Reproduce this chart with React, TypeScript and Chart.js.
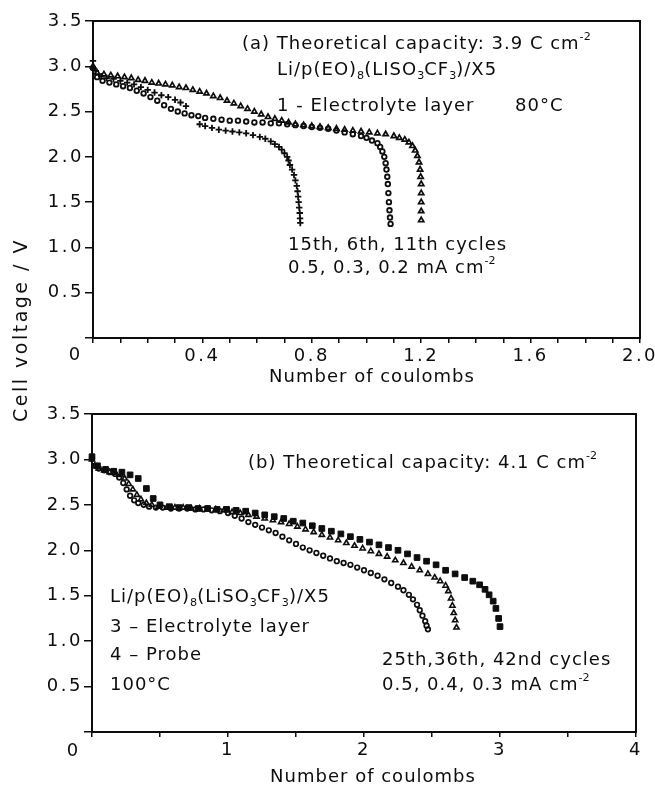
import React, { useEffect, useRef } from 'react';
import { Chart, registerables } from 'chart.js';

Chart.register(...registerables);

const FONT = '"DejaVu Sans", "Liberation Sans", sans-serif';
const INK = '#0d0d0d';

// ---------- Panel (a): Li/p(EO)8(LiSO3CF3)/X5, 80 °C ----------
// 15th cycle, 0.5 mA cm-2 (crosses)
const a15X = [0.00, 0.01, 0.03, 0.05, 0.075, 0.10, 0.125, 0.15, 0.175, 0.20, 0.225, 0.25, 0.275, 0.30, 0.32, 0.34, 0.39, 0.41, 0.435, 0.46, 0.485, 0.51, 0.535, 0.56, 0.585, 0.61, 0.63, 0.65, 0.665, 0.68, 0.69, 0.70, 0.71, 0.715, 0.72, 0.728, 0.735, 0.74, 0.745, 0.748, 0.75, 0.752, 0.754, 0.756, 0.757, 0.758];
const a15Y = [3.06, 2.95, 2.89, 2.87, 2.86, 2.84, 2.82, 2.80, 2.77, 2.74, 2.71, 2.68, 2.66, 2.63, 2.60, 2.56, 2.36, 2.34, 2.32, 2.30, 2.29, 2.28, 2.27, 2.26, 2.24, 2.22, 2.20, 2.17, 2.14, 2.11, 2.08, 2.04, 2.00, 1.96, 1.91, 1.86, 1.80, 1.74, 1.68, 1.62, 1.56, 1.50, 1.44, 1.38, 1.32, 1.27];
// 6th cycle, 0.3 mA cm-2 (open circles)
const a6X = [0.00, 0.015, 0.035, 0.06, 0.085, 0.11, 0.135, 0.16, 0.185, 0.21, 0.235, 0.26, 0.285, 0.31, 0.335, 0.36, 0.385, 0.41, 0.44, 0.47, 0.50, 0.53, 0.56, 0.59, 0.62, 0.65, 0.68, 0.71, 0.74, 0.77, 0.80, 0.83, 0.86, 0.89, 0.92, 0.95, 0.98, 1.00, 1.02, 1.04, 1.05, 1.058, 1.065, 1.07, 1.073, 1.076, 1.078, 1.08, 1.082, 1.084, 1.086, 1.088];
const a6Y = [2.98, 2.88, 2.84, 2.82, 2.80, 2.78, 2.76, 2.73, 2.70, 2.66, 2.62, 2.57, 2.53, 2.50, 2.48, 2.46, 2.45, 2.43, 2.42, 2.41, 2.40, 2.40, 2.39, 2.38, 2.38, 2.37, 2.37, 2.36, 2.35, 2.34, 2.33, 2.32, 2.31, 2.29, 2.27, 2.25, 2.23, 2.21, 2.18, 2.15, 2.11, 2.06, 2.00, 1.93, 1.86, 1.78, 1.70, 1.60, 1.50, 1.41, 1.33, 1.26];
// 11th cycle, 0.2 mA cm-2 (open triangles)
const a11X = [0.00, 0.015, 0.04, 0.065, 0.09, 0.115, 0.14, 0.165, 0.19, 0.215, 0.24, 0.265, 0.29, 0.315, 0.34, 0.365, 0.39, 0.415, 0.44, 0.465, 0.49, 0.515, 0.54, 0.565, 0.59, 0.615, 0.64, 0.665, 0.69, 0.715, 0.74, 0.77, 0.80, 0.83, 0.86, 0.89, 0.92, 0.95, 0.98, 1.01, 1.04, 1.07, 1.10, 1.12, 1.14, 1.155, 1.168, 1.178, 1.186, 1.192, 1.196, 1.198, 1.20, 1.20, 1.20, 1.20, 1.20];
const a11Y = [3.00, 2.93, 2.91, 2.90, 2.89, 2.88, 2.87, 2.85, 2.84, 2.82, 2.81, 2.80, 2.79, 2.77, 2.76, 2.74, 2.72, 2.70, 2.67, 2.65, 2.62, 2.59, 2.56, 2.53, 2.50, 2.47, 2.44, 2.42, 2.40, 2.38, 2.36, 2.35, 2.34, 2.33, 2.32, 2.31, 2.30, 2.29, 2.28, 2.27, 2.26, 2.25, 2.23, 2.21, 2.19, 2.16, 2.12, 2.07, 2.01, 1.94, 1.86, 1.78, 1.70, 1.60, 1.50, 1.40, 1.30];

// ---------- Panel (b): 100 °C ----------
// 25th cycle, 0.5 mA cm-2 (open circles)
const b25X = [0.00, 0.02, 0.05, 0.09, 0.13, 0.17, 0.20, 0.23, 0.255, 0.28, 0.31, 0.34, 0.38, 0.42, 0.47, 0.52, 0.58, 0.64, 0.70, 0.76, 0.82, 0.88, 0.94, 1.00, 1.05, 1.10, 1.15, 1.20, 1.25, 1.30, 1.35, 1.40, 1.45, 1.50, 1.55, 1.60, 1.65, 1.70, 1.75, 1.80, 1.85, 1.90, 1.95, 2.00, 2.05, 2.10, 2.15, 2.20, 2.25, 2.29, 2.33, 2.36, 2.39, 2.41, 2.43, 2.45, 2.46, 2.47];
const b25Y = [3.01, 2.93, 2.90, 2.88, 2.86, 2.84, 2.80, 2.74, 2.67, 2.60, 2.55, 2.52, 2.50, 2.48, 2.47, 2.47, 2.46, 2.46, 2.46, 2.45, 2.45, 2.44, 2.43, 2.41, 2.38, 2.35, 2.31, 2.28, 2.25, 2.22, 2.19, 2.15, 2.11, 2.07, 2.03, 2.00, 1.97, 1.94, 1.91, 1.88, 1.86, 1.84, 1.81, 1.78, 1.75, 1.72, 1.68, 1.64, 1.60, 1.56, 1.51, 1.46, 1.40, 1.34, 1.28, 1.22, 1.17, 1.13];
// 36th cycle, 0.4 mA cm-2 (open triangles)
const b36X = [0.00, 0.02, 0.05, 0.09, 0.13, 0.17, 0.21, 0.24, 0.27, 0.30, 0.33, 0.36, 0.40, 0.44, 0.49, 0.55, 0.61, 0.67, 0.73, 0.79, 0.85, 0.91, 0.97, 1.03, 1.09, 1.15, 1.21, 1.27, 1.33, 1.39, 1.45, 1.51, 1.57, 1.63, 1.69, 1.75, 1.81, 1.87, 1.93, 1.99, 2.05, 2.11, 2.17, 2.23, 2.29, 2.35, 2.41, 2.47, 2.52, 2.56, 2.60, 2.62, 2.64, 2.65, 2.66, 2.67, 2.68];
const b36Y = [3.00, 2.93, 2.90, 2.88, 2.86, 2.85, 2.83, 2.79, 2.73, 2.67, 2.61, 2.56, 2.52, 2.50, 2.48, 2.47, 2.47, 2.47, 2.46, 2.46, 2.45, 2.45, 2.44, 2.42, 2.41, 2.39, 2.37, 2.35, 2.33, 2.31, 2.29, 2.26, 2.23, 2.20, 2.17, 2.14, 2.11, 2.08, 2.05, 2.02, 1.99, 1.96, 1.93, 1.89, 1.86, 1.82, 1.78, 1.74, 1.70, 1.66, 1.61, 1.55, 1.47, 1.39, 1.31, 1.23, 1.15];
// 42nd cycle, 0.3 mA cm-2 (filled squares)
const b42X = [0.00, 0.04, 0.10, 0.16, 0.22, 0.28, 0.34, 0.40, 0.45, 0.50, 0.57, 0.64, 0.71, 0.78, 0.85, 0.92, 0.99, 1.06, 1.13, 1.20, 1.27, 1.34, 1.41, 1.48, 1.55, 1.62, 1.69, 1.76, 1.83, 1.90, 1.97, 2.04, 2.11, 2.18, 2.25, 2.32, 2.39, 2.46, 2.53, 2.60, 2.67, 2.74, 2.80, 2.85, 2.89, 2.92, 2.95, 2.97, 2.99, 3.00];
const b42Y = [3.03, 2.93, 2.89, 2.87, 2.86, 2.83, 2.79, 2.68, 2.57, 2.50, 2.48, 2.47, 2.47, 2.46, 2.46, 2.45, 2.45, 2.44, 2.43, 2.41, 2.39, 2.37, 2.35, 2.32, 2.30, 2.27, 2.24, 2.21, 2.18, 2.15, 2.12, 2.09, 2.06, 2.03, 2.00, 1.96, 1.92, 1.88, 1.84, 1.78, 1.74, 1.70, 1.66, 1.62, 1.57, 1.51, 1.44, 1.36, 1.25, 1.16];

// ---------- Axis tick labels ----------
const yLabels = ['0.5', '1.0', '1.5', '2.0', '2.5', '3.0', '3.5'];
const aXLabels = ['0.4', '0.8', '1.2', '1.6', '2.0'];
const bXLabels = ['1', '2', '3', '4'];

const xTitle = 'Number of coulombs';
const yTitle = 'Cell voltage / V';

type Note = { text: string; x: number; y: number };

const notesA: Note[] = [
  { text: '(a) Theoretical capacity: 3.9 C cm^{-2}', x: 242, y: 44 },
  { text: 'Li/p(EO)_{8}(LISO_{3}CF_{3})/X5', x: 277, y: 70 },
  { text: '1 - Electrolyte layer', x: 277, y: 106 },
  { text: '80°C', x: 515, y: 106 },
  { text: '15th, 6th, 11th cycles', x: 288, y: 245 },
  { text: '0.5, 0.3, 0.2 mA cm^{-2}', x: 288, y: 268 },
];

const notesB: Note[] = [
  { text: '(b) Theoretical capacity: 4.1 C cm^{-2}', x: 248, y: 67 },
  { text: 'Li/p(EO)_{8}(LiSO_{3}CF_{3})/X5', x: 110, y: 201 },
  { text: '3 – Electrolyte layer', x: 110, y: 231 },
  { text: '4 – Probe', x: 110, y: 259 },
  { text: '100°C', x: 110, y: 289 },
  { text: '25th,36th, 42nd cycles', x: 382, y: 264 },
  { text: '0.5, 0.4, 0.3 mA cm^{-2}', x: 382, y: 289 },
];

type Seg = { t: string; sub?: boolean; sup?: boolean };
function parseRich(s: string): Seg[] {
  const out: Seg[] = [];
  let buf = '';
  let i = 0;
  while (i < s.length) {
    const c = s[i];
    if ((c === '_' || c === '^') && s[i + 1] === '{') {
      if (buf) { out.push({ t: buf }); buf = ''; }
      const end = s.indexOf('}', i);
      out.push({ t: s.slice(i + 2, end), sub: c === '_', sup: c === '^' });
      i = end + 1;
    } else {
      buf += c;
      i++;
    }
  }
  if (buf) out.push({ t: buf });
  return out;
}

function drawRich(ctx: any, s: string, x: number, y: number, size: number, spacing: number) {
  let cx = x;
  ctx.textAlign = 'left';
  ctx.textBaseline = 'middle';
  for (const sg of parseRich(s)) {
    const small = sg.sub || sg.sup;
    const fs = small ? size * 0.62 : size;
    ctx.font = `${fs}px ${FONT}`;
    ctx.letterSpacing = `${small ? 0 : spacing}px`;
    const dy = sg.sub ? size * 0.33 : sg.sup ? -size * 0.36 : 0;
    ctx.fillText(sg.t, cx, y + dy);
    cx += ctx.measureText(sg.t).width;
  }
}

type Series = { x: number[]; y: number[]; style: string; r: number; fill: string; bw: number };
type PanelCfg = {
  top: number;
  area: { left: number; top: number; right: number; bottom: number };
  xMax: number;
  xStep: number;
  xLabels: string[];
  series: Series[];
  notes: Note[];
  zero: { x: number; y: number };
  title: { x: number; y: number };
};

const OPEN = 'rgba(0,0,0,0)';

const panelA: PanelCfg = {
  top: 0,
  area: { left: 93, top: 21, right: 640, bottom: 338 },
  xMax: 2,
  xStep: 0.1,
  xLabels: aXLabels,
  series: [
    { x: a15X, y: a15Y, style: 'cross', r: 3.2, fill: INK, bw: 1.8 },
    { x: a6X, y: a6Y, style: 'circle', r: 2.3, fill: OPEN, bw: 1.8 },
    { x: a11X, y: a11Y, style: 'triangle', r: 3, fill: OPEN, bw: 1.7 },
  ],
  notes: notesA,
  zero: { x: 75, y: 355 },
  title: { x: 372, y: 377 },
};

const panelB: PanelCfg = {
  top: 396,
  area: { left: 92, top: 18, right: 636, bottom: 336 },
  xMax: 4,
  xStep: 0.5,
  xLabels: bXLabels,
  series: [
    { x: b25X, y: b25Y, style: 'circle', r: 2.3, fill: OPEN, bw: 1.7 },
    { x: b36X, y: b36Y, style: 'triangle', r: 3, fill: OPEN, bw: 1.6 },
    { x: b42X, y: b42Y, style: 'rect', r: 4, fill: INK, bw: 1 },
  ],
  notes: notesB,
  zero: { x: 73, y: 355 },
  title: { x: 373, y: 381 },
};

const W = 655;
const H = 396;

function Panel({ cfg }: { cfg: PanelCfg }) {
  const ref = useRef<HTMLCanvasElement>(null);
  useEffect(() => {
    const canvas = ref.current;
    if (!canvas) return;
    const deco = {
      id: 'deco',
      beforeDraw(chart: any) {
        chart.ctx.letterSpacing = '2.5px';
      },
      afterDraw(chart: any) {
        const ctx = chart.ctx;
        const { left, top, right, bottom } = chart.chartArea;
        ctx.save();
        ctx.strokeStyle = INK;
        ctx.lineWidth = 2;
        ctx.strokeRect(left, top, right - left, bottom - top);
        ctx.fillStyle = INK;
        for (const n of cfg.notes) drawRich(ctx, n.text, n.x, n.y, 18, 1);
        ctx.font = `18px ${FONT}`;
        ctx.letterSpacing = '1px';
        ctx.textAlign = 'center';
        ctx.textBaseline = 'middle';
        ctx.fillText(xTitle, cfg.title.x, cfg.title.y);
        ctx.fillText('0', cfg.zero.x, cfg.zero.y);
        ctx.restore();
        ctx.letterSpacing = '0px';
      },
    };
    const chart = new Chart(canvas, {
      type: 'scatter',
      data: {
        datasets: cfg.series.map((s) => ({
          data: s.x.map((v, i) => ({ x: v, y: s.y[i] })),
          pointStyle: s.style as any,
          pointRadius: s.r,
          pointBorderWidth: s.bw,
          borderColor: INK,
          backgroundColor: s.fill,
          pointBackgroundColor: s.fill,
          pointBorderColor: INK,
          showLine: false,
          clip: false as any,
        })),
      },
      options: {
        responsive: false,
        animation: false,
        devicePixelRatio: 1,
        events: [],
        layout: {
          padding: { left: 0, top: cfg.area.top, right: W - cfg.area.right, bottom: 0 },
        },
        plugins: { legend: { display: false }, tooltip: { enabled: false } },
        scales: {
          x: {
            type: 'linear',
            min: 0,
            max: cfg.xMax,
            afterFit: (s: any) => {
              s.height = H - cfg.area.bottom;
              s.paddingLeft = 0;
              s.paddingRight = 0;
            },
            ticks: {
              stepSize: cfg.xStep,
              autoSkip: false,
              maxRotation: 0,
              padding: 3,
              color: INK,
              font: { family: FONT, size: 18 },
              callback: (v: any) => {
                const hit = cfg.xLabels.find((l) => Math.abs(parseFloat(l) - Number(v)) < 1e-6);
                return hit === undefined ? '' : hit;
              },
            },
            grid: { drawOnChartArea: false, drawTicks: true, tickLength: 5, color: INK, lineWidth: 1.5 },
            border: { display: false },
          },
          y: {
            type: 'linear',
            min: 0,
            max: 3.5,
            afterFit: (s: any) => {
              s.width = cfg.area.left;
              s.paddingTop = 0;
              s.paddingBottom = 0;
            },
            ticks: {
              stepSize: 0.5,
              autoSkip: false,
              padding: 1,
              color: INK,
              font: { family: FONT, size: 18 },
              callback: (v: any) => {
                const hit = yLabels.find((l) => Math.abs(parseFloat(l) - Number(v)) < 1e-6);
                return hit === undefined ? '' : hit;
              },
            },
            grid: { drawOnChartArea: false, drawTicks: true, tickLength: 8, color: INK, lineWidth: 1.5 },
            border: { display: false },
          },
        },
      },
      plugins: [deco],
    } as any);
    return () => chart.destroy();
  }, [cfg]);
  return (
    <canvas
      ref={ref}
      width={W}
      height={H}
      style={{ position: 'absolute', left: 0, top: cfg.top, width: W, height: H }}
    />
  );
}

export default function App() {
  return (
    <div
      style={{
        position: 'fixed',
        left: 0,
        top: 0,
        width: W,
        height: 792,
        background: '#ffffff',
        overflow: 'hidden',
      }}
    >
      <Panel cfg={panelA} />
      <Panel cfg={panelB} />
      <div
        style={{
          position: 'absolute',
          left: 20,
          top: 330,
          transform: 'translate(-50%, -50%) rotate(-90deg)',
          whiteSpace: 'nowrap',
          fontFamily: FONT,
          fontSize: 19,
          letterSpacing: '2.5px',
          color: INK,
        }}
      >
        {yTitle}
      </div>
    </div>
  );
}
